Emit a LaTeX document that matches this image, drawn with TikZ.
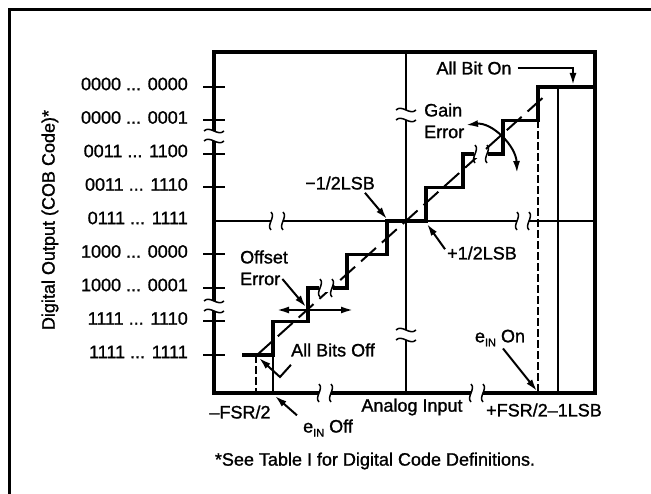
\documentclass[tikz,border=0pt]{standalone}
\usepackage{fontspec}
\setmainfont{Liberation Sans}[FakeBold=1.2]
\usetikzlibrary{arrows.meta}
\newcommand{\einsub}{e\raisebox{-4pt}{\fontsize{11}{11}\selectfont IN}}
\begin{document}
\begin{tikzpicture}[x=1pt,y=-1pt,
  every node/.style={font=\fontsize{18}{20}\selectfont, inner sep=0pt},
  ticklab/.style={anchor=east},
  frameln/.style={line width=3pt},
  heavy/.style={line width=3.2pt, line join=miter},
  thinln/.style={line width=1.5pt},
  dashv/.style={line width=1.4pt, dash pattern=on 8pt off 3pt},
  ideal/.style={line width=2pt, dash pattern=on 20pt off 8pt},
  ptr/.style={line width=2pt, -{Latex[length=12pt,width=7pt]}},
  dptr/.style={line width=2pt, {Latex[length=12pt,width=7pt]}-{Latex[length=12pt,width=7pt]}},
  tickln/.style={line width=2pt},
  hbreak/.pic={
    \fill[white] (-6,-4) rectangle (6,4);
    \draw[line width=1.5pt] (-6,-9) .. controls (-1,-4) and (-11,4) .. (-6,9);
    \draw[line width=1.5pt] (6,-9) .. controls (11,-4) and (1,4) .. (6,9);
  },
  vbreak/.pic={
    \fill[white] (-4,-5) rectangle (4,5);
    \draw[line width=1.5pt] (-10,-5) .. controls (-4,-11) and (4,1) .. (10,-5);
    \draw[line width=1.5pt] (-10,5) .. controls (-4,-1) and (4,11) .. (10,5);
  }]
\useasboundingbox (0,0) rectangle (651,494);
% outer frame
\draw[frameln] (9,494) -- (9,10) -- (651,10);
% centre axes
\draw[thinln] (214,221) -- (595,221);
\draw[thinln] (406,52) -- (406,393);
% thin verticals
\draw[dashv] (256,355) -- (256,393);
\draw[thinln] (273,355) -- (273,393);
\draw[dashv] (538,120.5) -- (538,393);
\draw[thinln] (558,87) -- (558,393);
% ideal transfer line
\draw[ideal] (257,355) -- (547,94);
% staircase
\draw[heavy] (242,355) -- (273,355) -- (273,321.5) -- (308,321.5) -- (308,288) -- (319,288);
\draw[heavy] (333,288) -- (347,288) -- (347,254.5) -- (387,254.5) -- (387,221) -- (426,221) -- (426,187.5) -- (463,187.5) -- (463,154) -- (474,154);
\draw[heavy] (488,154) -- (503,154) -- (503,120.5) -- (538,120.5) -- (538,87) -- (595,87);
% plot box
\draw[heavy] (214,52) rectangle (595,393);
% ticks
\foreach \i in {0,1,2,3,5,6,7,8}
  \draw[tickln] (203,{87+33.5*\i}) -- (225,{87+33.5*\i});
% tick labels
\node[ticklab] (lab0) at (188,84) {0000 ... 0000};
\node[ticklab] (lab1) at (188,117.5) {0000 ... 0001};
\node[ticklab] (lab2) at (188,151) {0011 ... 1100};
\node[ticklab] (lab3) at (188,184.5) {0011 ... 1110};
\node[ticklab] (lab4) at (188,218) {0111 ... 1111};
\node[ticklab] (lab5) at (188,251.5) {1000 ... 0000};
\node[ticklab] (lab6) at (188,285) {1000 ... 0001};
\node[ticklab] (lab7) at (188,318.5) {1111 ... 1110};
\node[ticklab] (lab8) at (188,352) {1111 ... 1111};
% breaks
\pic at (277,221) {hbreak};
\pic at (523,221) {hbreak};
\pic at (325,393) {hbreak};
\pic at (477,393) {hbreak};
\pic at (326,288) {hbreak};
\pic at (481,154) {hbreak};
\pic at (214,136) {vbreak};
\pic at (214,306) {vbreak};
\pic at (406,115) {vbreak};
\pic at (406,335) {vbreak};
% axis title
\node[rotate=90] (ylab) at (50,220) {Digital Output (COB Code)*};
% target coordinates
\coordinate (allonT) at (573,85);
\coordinate (mhalfT) at (387,219);
\coordinate (phalfT) at (427,224);
\coordinate (offT) at (306,307);
\coordinate (offL) at (277,310);
\coordinate (offR) at (353,310);
\coordinate (alloffK) at (280,377);
\coordinate (alloffT) at (259,358);
\coordinate (einoffT) at (275,396);
\coordinate (einonT) at (537,391);
\coordinate (gainA) at (466,125);
\coordinate (gainB) at (517,173);
% labels
\node (allon) at (474,68) {All Bit On};
\node[anchor=west] (gain) at (424,110) {Gain};
\node[anchor=west] (gerr) at (424,132) {Error};
\node (mhalf) at (340,183) {−1/2LSB};
\node (phalf) at (482,253) {+1/2LSB};
\node[anchor=west] (offs) at (240,257) {Offset};
\node[anchor=west] (oerr) at (240,279) {Error};
\node (alloff) at (333,350) {All Bits Off};
\node (mfsr) at (240,412) {–FSR/2};
\node (einoff) at (328,428) {\einsub{} Off};
\node (ain) at (412,407) {Analog Input};
\node (pfsr) at (544,410) {+FSR/2–1LSB};
\node (einon) at (500,338) {\einsub{} On};
\node (foot) at (375,461) {*See Table I for Digital Code Definitions.};
% pointers
\draw[ptr] ([xshift=6pt]allon.east) -| (allonT);
\draw[dptr] (gainA) .. controls (492,122) and (516,146) .. (gainB);
\draw[ptr] ([xshift=-10pt,yshift=-3pt]mhalf.south east) -- (mhalfT);
\draw[ptr] ([xshift=-2pt,yshift=-3pt]phalf.north west) -- (phalfT);
\draw[ptr] ([xshift=2pt]oerr.east) -- (offT);
\draw[dptr] (offL) -- (offR);
\draw[ptr] ([yshift=-8pt]alloff.south west) -- (alloffK) -- (alloffT);
\draw[ptr] ([xshift=-6pt,yshift=4pt]einoff.north west) -- (einoffT);
\draw[ptr] ([xshift=3pt,yshift=-2pt]einon.south) -- (einonT);
\end{tikzpicture}
\end{document}
